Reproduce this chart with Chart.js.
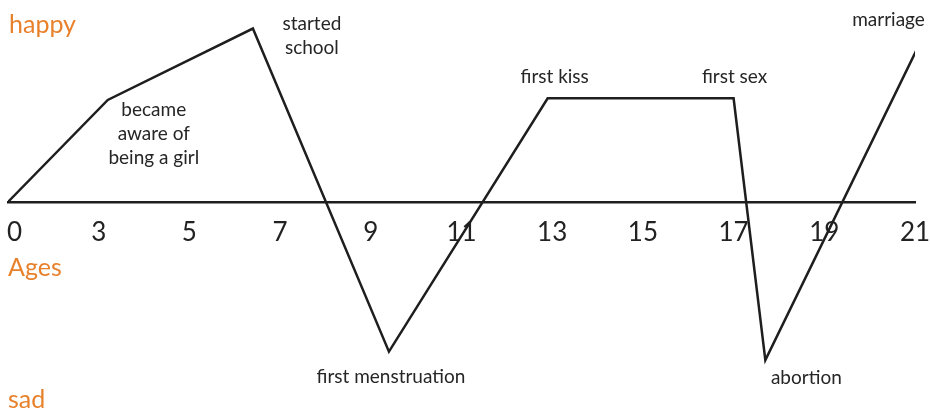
<!DOCTYPE html>
<html>
<head>
<meta charset="utf-8">
<script src="https://cdn.jsdelivr.net/npm/chart.js@4"></script>
<style>
  html, body { margin: 0; padding: 0; background: #fff; }
  #wrap { width: 930px; height: 413px; }
</style>
</head>
<body>
<div id="wrap"><canvas id="myChart"></canvas></div>
<script>
// tick labels on the age axis (evenly spaced in the picture)
var tickAges = [0, 3, 5, 7, 9, 11, 13, 15, 17, 19, 21];

// turning points of the life line: age and mood (happy > 0 > sad)
var ages = [0, 3.2, 6.4, 9.4, 12.9, 17.0, 17.7, 21.1];
var mood = [0, 6.0, 10.2, -8.8, 6.1, 6.1, -9.3, 9.3];
var events = [null, ["became", "aware of", "being a girl"], ["started", "school"],
  ["first menstruation"], ["first kiss"], ["first sex"], ["abortion"], ["marriage"]];

// where each event text sits next to its point (px)
var labelOffsets = [null, [46, 10], [59, -5], [2, 25], [7, -21], [1, -21], [41, 18], [-31, -24]];

var orange = "#e8812b";
var ink = "#222";
var font = "Lato, 'Open Sans', sans-serif";

// age -> position on the axis (0..3 takes one step, then two years per step)
function ageToPos(a) {
  return a <= 3 ? a / 3 : 1 + (a - 3) / 2;
}

var points = [];
for (var i = 0; i < ages.length; i++) {
  points.push({ x: ageToPos(ages[i]), y: mood[i] });
}

var textPlugin = {
  id: "lifeText",
  afterDatasetsDraw: function(chart) {
    var ctx = chart.ctx;
    var meta = chart.getDatasetMeta(0);
    ctx.save();
    ctx.fillStyle = "#262626";
    ctx.font = "19px " + font;
    ctx.textAlign = "center";
    ctx.textBaseline = "middle";
    for (var i = 0; i < events.length; i++) {
      if (!events[i]) continue;
      var p = meta.data[i];
      for (var j = 0; j < events[i].length; j++) {
        ctx.fillText(events[i][j], p.x + labelOffsets[i][0], p.y + labelOffsets[i][1] + j * 24);
      }
    }
    // happy / sad ends of the mood scale
    ctx.fillStyle = orange;
    ctx.font = "25px " + font;
    ctx.textAlign = "left";
    ctx.textBaseline = "alphabetic";
    ctx.fillText("happy", 9, 33);
    ctx.fillText("sad", 8, 408);
    ctx.restore();
  }
};

var ctx = document.getElementById("myChart").getContext("2d");
var myChart = new Chart(ctx, {
  type: "line",
  data: {
    datasets: [{
      data: points,
      borderColor: "#1e1e1e",
      borderWidth: 2.5,
      pointRadius: 0,
      tension: 0,
      fill: false
    }]
  },
  options: {
    responsive: true,
    maintainAspectRatio: false,
    animation: false,
    layout: { padding: { left: 8, right: 15, top: 0, bottom: 0 } },
    plugins: { legend: { display: false }, tooltip: { enabled: false } },
    scales: {
      x: {
        type: "linear",
        position: { y: 0 },
        min: 0,
        max: 10,
        grid: { display: false },
        border: { display: true, color: "#1e1e1e", width: 2.5 },
        ticks: {
          stepSize: 1,
          padding: 7,
          color: ink,
          font: { family: font, size: 26 },
          maxRotation: 0,
          // the "0" sits flush with the start of the line
          callback: function(v) { return v === 0 ? "\u2002" + tickAges[v] : tickAges[v]; }
        },
        title: {
          display: true,
          text: "Ages",
          align: "start",
          color: orange,
          font: { family: font, size: 25 },
          padding: { top: -2, bottom: 0 }
        },
        // labels may hang over the edges, keep the line from 8 to 915
        afterFit: function(scale) {
          scale.paddingLeft = 0;
          scale.paddingRight = 0;
        }
      },
      y: {
        display: false,
        min: -12.41,
        max: 11.88
      }
    }
  },
  plugins: [textPlugin]
});
</script>
</body>
</html>
